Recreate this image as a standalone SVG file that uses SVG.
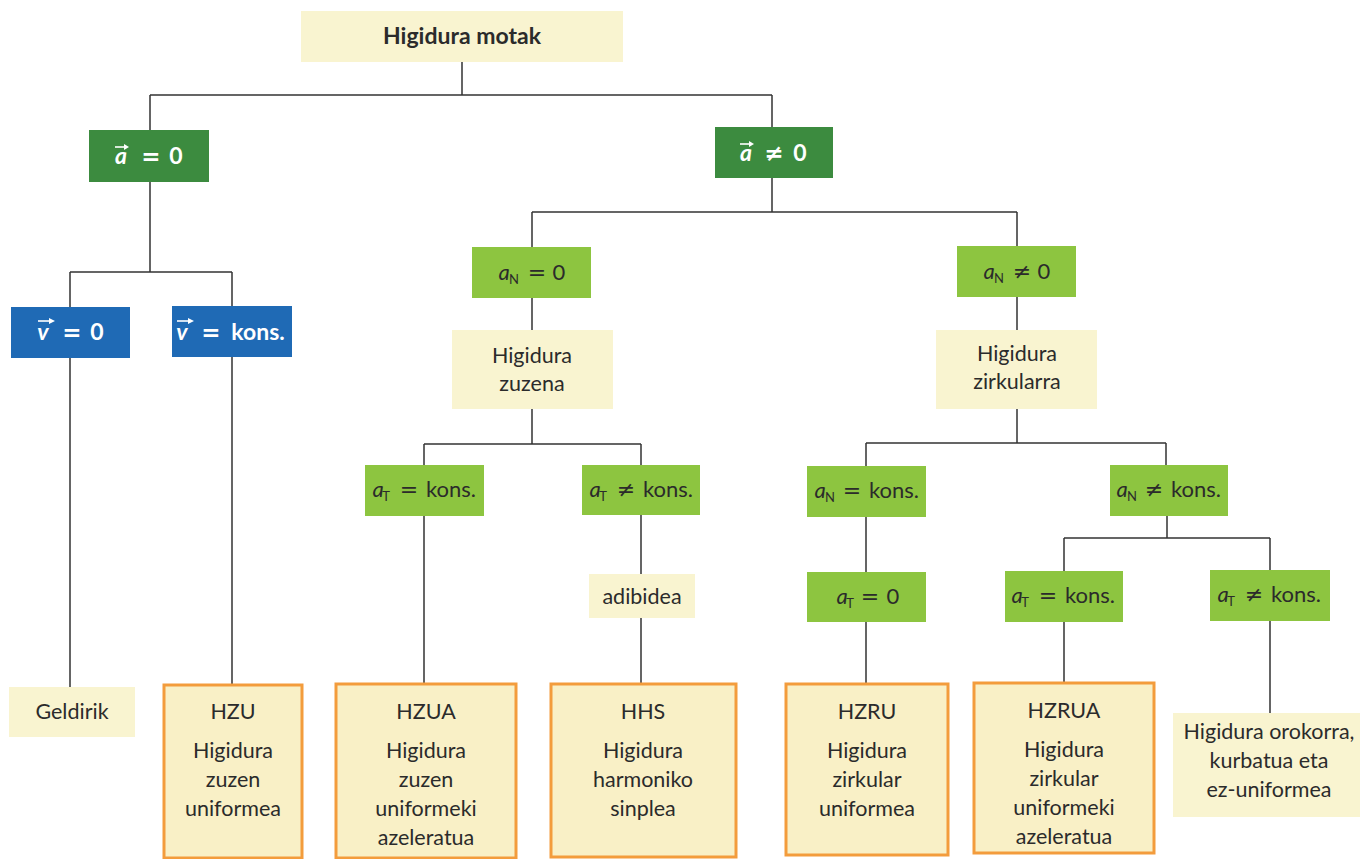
<svg xmlns="http://www.w3.org/2000/svg" width="1360" height="859" viewBox="0 0 1360 859">
<style>
.ly{fill:#f9f4d0}
.dg{fill:#3c8b3f}
.bl{fill:#1f6ab5}
.lg{fill:#8dc540}
.ob{fill:#f9f0c6;stroke:#f39c3c;stroke-width:3}
text{font-family:Lato,"Open Sans","DejaVu Sans",sans-serif}
.t{font-size:21.5px;fill:#2b2b2b;text-anchor:middle}
.tb{font-size:23px;font-weight:bold;fill:#2b2b2b;text-anchor:middle}
.w{fill:#fff;font-weight:bold;font-size:23px;text-anchor:middle}
.m{font-size:22px;fill:#2b2b2b;text-anchor:middle}
.it{font-style:italic}
.sub{font-size:13px}
.op{font-family:"DejaVu Sans",sans-serif}
.conn path{stroke:#333;stroke-width:1.5;fill:none}
.vec{stroke:#fff;stroke-width:1.6;fill:none}
.vh{fill:#fff}
</style>
<g class="conn" id="connectors">
<path d="M462,62 V95 M150,95 H772 M150,95 V130 M772,95 V127"/>
<path d="M150,182 V272 M70,272 H232 M70,272 V307 M232,272 V306"/>
<path d="M70,358 V687 M232,357 V685"/>
<path d="M772,178 V212 M532,212 H1017 M532,212 V247 M1017,212 V246"/>
<path d="M532,298 V330 M1017,297 V330"/>
<path d="M532,409 V444 M424,444 H641 M424,444 V465 M641,444 V465"/>
<path d="M424,516 V684 M641,515 V574 M641,618 V684"/>
<path d="M1017,409 V443 M866,443 H1166 M866,443 V466 M1166,443 V465"/>
<path d="M866,517 V572 M866,622 V684"/>
<path d="M1167,516 V538 M1064,538 H1270 M1064,538 V571 M1270,538 V570"/>
<path d="M1064,622 V683 M1270,621 V713"/>
</g>

<g id="root">
<rect class="ly" x="301" y="11" width="322" height="51"/>
<text class="tb" x="462" y="44">Higidura motak</text>
</g>

<g id="a-zero">
<rect class="dg" x="89" y="130" width="120" height="52"/>
<text class="w"><tspan class="it" x="121" y="164">a</tspan><tspan class="op" x="151" y="164">=</tspan><tspan x="176" y="164">0</tspan></text>
<path class="vec" d="M115,147 H126"/><path class="vh" d="M129,147 L124,144 L124,150 Z"/>
</g>

<g id="a-nonzero">
<rect class="dg" x="715" y="127" width="118" height="51"/>
<text class="w"><tspan class="it" x="746" y="161">a</tspan><tspan class="op" x="774" y="161">≠</tspan><tspan x="800" y="161">0</tspan></text>
<path class="vec" d="M740,144 H751"/><path class="vh" d="M754,144 L749,141 L749,147 Z"/>
</g>

<g id="v-zero">
<rect class="bl" x="11" y="307" width="119" height="51"/>
<text class="w"><tspan class="it" x="43" y="340">v</tspan><tspan class="op" x="72" y="340">=</tspan><tspan x="97" y="340">0</tspan></text>
<path class="vec" d="M38,321 H51"/><path class="vh" d="M55,321 L49,318 L49,324 Z"/>
</g>

<g id="v-kons">
<rect class="bl" x="172" y="306" width="120" height="51"/>
<text class="w"><tspan class="it" x="182" y="340">v</tspan><tspan class="op" x="211" y="340">=</tspan><tspan x="258" y="340">kons.</tspan></text>
<path class="vec" d="M177,321 H190"/><path class="vh" d="M194,321 L188,318 L188,324 Z"/>
</g>

<g id="aN-zero">
<rect class="lg" x="472" y="247" width="119" height="51"/>
<text class="m"><tspan class="it" x="504" y="280">a</tspan><tspan class="sub" x="514" y="284">N</tspan><tspan class="op" x="537" y="280">=</tspan><tspan x="559" y="280">0</tspan></text>
</g>

<g id="aN-nonzero">
<rect class="lg" x="957" y="246" width="119" height="51"/>
<text class="m"><tspan class="it" x="989" y="279">a</tspan><tspan class="sub" x="999" y="283">N</tspan><tspan class="op" x="1022" y="279">≠</tspan><tspan x="1044" y="279">0</tspan></text>
</g>

<g id="zuzena">
<rect class="ly" x="452" y="330" width="161" height="79"/>
<text class="t" x="532" y="363">Higidura</text>
<text class="t" x="532" y="391">zuzena</text>
</g>

<g id="zirkularra">
<rect class="ly" x="936" y="330" width="161" height="79"/>
<text class="t" x="1017" y="361">Higidura</text>
<text class="t" x="1017" y="389">zirkularra</text>
</g>

<g id="aT-kons-1">
<rect class="lg" x="365" y="465" width="119" height="51"/>
<text class="m"><tspan class="it" x="378" y="497">a</tspan><tspan class="sub" x="386" y="501">T</tspan><tspan class="op" x="409" y="497">=</tspan><tspan x="451" y="497">kons.</tspan></text>
</g>

<g id="aT-nkons-1">
<rect class="lg" x="582" y="465" width="118" height="50"/>
<text class="m"><tspan class="it" x="595" y="497">a</tspan><tspan class="sub" x="603" y="501">T</tspan><tspan class="op" x="626" y="497">≠</tspan><tspan x="668" y="497">kons.</tspan></text>
</g>

<g id="aN-kons">
<rect class="lg" x="807" y="466" width="119" height="51"/>
<text class="m"><tspan class="it" x="820" y="498">a</tspan><tspan class="sub" x="830" y="502">N</tspan><tspan class="op" x="852" y="498">=</tspan><tspan x="894" y="498">kons.</tspan></text>
</g>

<g id="aN-nkons">
<rect class="lg" x="1110" y="465" width="118" height="51"/>
<text class="m"><tspan class="it" x="1122" y="497">a</tspan><tspan class="sub" x="1132" y="501">N</tspan><tspan class="op" x="1154" y="497">≠</tspan><tspan x="1196" y="497">kons.</tspan></text>
</g>

<g id="adibidea">
<rect class="ly" x="589" y="574" width="106" height="44"/>
<text class="t" x="642" y="604">adibidea</text>
</g>

<g id="aT-zero">
<rect class="lg" x="807" y="572" width="119" height="50"/>
<text class="m"><tspan class="it" x="842" y="604">a</tspan><tspan class="sub" x="850" y="608">T</tspan><tspan class="op" x="870" y="604">=</tspan><tspan x="893" y="604">0</tspan></text>
</g>

<g id="aT-kons-2">
<rect class="lg" x="1005" y="571" width="118" height="51"/>
<text class="m"><tspan class="it" x="1017" y="603">a</tspan><tspan class="sub" x="1025" y="607">T</tspan><tspan class="op" x="1048" y="603">=</tspan><tspan x="1090" y="603">kons.</tspan></text>
</g>

<g id="aT-nkons-2">
<rect class="lg" x="1210" y="570" width="120" height="51"/>
<text class="m"><tspan class="it" x="1223" y="602">a</tspan><tspan class="sub" x="1231" y="606">T</tspan><tspan class="op" x="1254" y="602">≠</tspan><tspan x="1296" y="602">kons.</tspan></text>
</g>

<g id="geldirik">
<rect class="ly" x="9" y="687" width="126" height="50"/>
<text class="t" x="72" y="719">Geldirik</text>
</g>

<g id="hzu">
<rect class="ob" x="164" y="685" width="138" height="173"/>
<text class="t" x="233" y="719">HZU</text>
<text class="t" x="233" y="758">Higidura</text>
<text class="t" x="233" y="787">zuzen</text>
<text class="t" x="233" y="816">uniformea</text>
</g>

<g id="hzua">
<rect class="ob" x="336" y="684" width="180" height="174"/>
<text class="t" x="426" y="719">HZUA</text>
<text class="t" x="426" y="758">Higidura</text>
<text class="t" x="426" y="787">zuzen</text>
<text class="t" x="426" y="816">uniformeki</text>
<text class="t" x="426" y="845">azeleratua</text>
</g>

<g id="hhs">
<rect class="ob" x="551" y="684" width="185" height="173"/>
<text class="t" x="643" y="719">HHS</text>
<text class="t" x="643" y="758">Higidura</text>
<text class="t" x="643" y="787">harmoniko</text>
<text class="t" x="643" y="816">sinplea</text>
</g>

<g id="hzru">
<rect class="ob" x="786" y="684" width="162" height="171"/>
<text class="t" x="867" y="719">HZRU</text>
<text class="t" x="867" y="758">Higidura</text>
<text class="t" x="867" y="787">zirkular</text>
<text class="t" x="867" y="816">uniformea</text>
</g>

<g id="hzrua">
<rect class="ob" x="974" y="683" width="180" height="170"/>
<text class="t" x="1064" y="718">HZRUA</text>
<text class="t" x="1064" y="757">Higidura</text>
<text class="t" x="1064" y="786">zirkular</text>
<text class="t" x="1064" y="815">uniformeki</text>
<text class="t" x="1064" y="844">azeleratua</text>
</g>

<g id="orokorra">
<rect class="ly" x="1173" y="713" width="187" height="104"/>
<text class="t" x="1269" y="739">Higidura orokorra,</text>
<text class="t" x="1269" y="768">kurbatua eta</text>
<text class="t" x="1269" y="797">ez-uniformea</text>
</g>
</svg>
